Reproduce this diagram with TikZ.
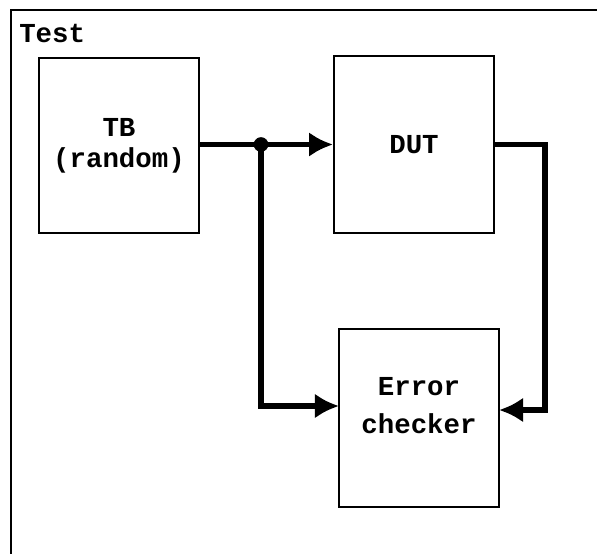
\documentclass[tikz,border=0pt]{standalone}
\usepackage{fontspec}
\setmonofont{Liberation Mono}
\usetikzlibrary{arrows.meta}

\begin{document}
\begin{tikzpicture}[x=0.025cm,y=-0.025cm]
		\tikzset{block/.style={draw,line width=1.4pt,minimum width=160*0.025cm,align=center,font=\ttfamily\bfseries\fontsize{19.5}{22}\selectfont},
			wire/.style={line width=3.8pt},
			wirearrow/.style={wire,-{Latex[length=0.6cm,width=0.62cm]}}};
		\useasboundingbox (0,0) rectangle (597,554);
		\draw[line width=2pt] (597,10) -- (11,10) -- (11,554);
		\node[anchor=west,inner sep=0pt,font=\ttfamily\bfseries\fontsize{19.5}{22}\selectfont] (title) at (19,33) {Test};
		\node[block,minimum height=175*0.025cm] (tb) at (119,145.5) {TB\\(random)};
		\node[block,minimum height=177*0.025cm] (dut) at (414,144.5) {DUT};
		\node[block,minimum height=178*0.025cm,text depth=18pt] (chk) at (419,418) {Error\\[5pt]checker};
		\coordinate (split) at (261,144.5);
		\coordinate (chkin) at (339,406);
		\coordinate (chkret) at (499,410);
		\coordinate (bend) at (545,410);
		\draw[wirearrow] (tb.east |- dut.west) -- (dut.west);
		\draw[wirearrow] (split) |- (chkin);
		\draw[wirearrow] (dut.east) -| (bend) -- (chkret);
		\filldraw[black] (split) circle(7);
	\end{tikzpicture}
\end{document}
